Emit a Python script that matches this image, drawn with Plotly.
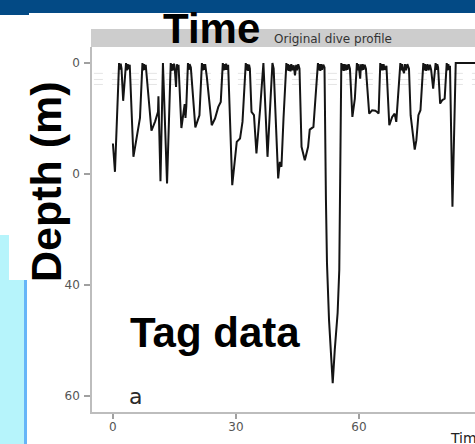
import plotly.graph_objects as go

# ---- data ----
time_min = [
    0.0, 0.5, 1.5, 1.7, 1.9, 2.1, 2.5, 3.2, 3.4, 3.6, 3.8, 4.1,
    5.0, 5.8, 6.6, 7.2, 7.4, 7.6, 7.8, 8.0,
    9.0, 9.4, 10.3, 11.0, 11.1, 11.6, 12.2, 13.2, 14.1, 14.3, 14.5, 14.7, 14.9, 15.1, 15.4, 15.6, 15.8, 16.0,
    16.7, 17.2, 17.5, 17.7, 17.9, 18.3, 18.5, 18.7, 19.0,
    20.1, 21.1, 21.7, 21.9, 22.1, 22.3, 22.5, 22.7,
    22.9, 24.1, 24.9, 25.7, 26.3, 26.8, 27.0, 27.2, 27.4, 27.6, 27.8, 28.1,
    29.1, 30.2, 31.0, 31.6, 32.4, 32.6, 32.8, 33.0, 33.2, 33.4,
    33.8, 34.4, 35.0, 35.9, 36.7, 37.7, 38.9, 39.2,
    40.3, 40.7, 41.1, 41.6, 42.3, 42.5, 42.7, 42.9, 43.1, 43.3, 43.5, 43.8, 44.1, 44.4, 44.7, 44.9, 45.2, 45.5,
    46.0, 46.8, 47.6, 48.0, 48.9, 50.0, 50.2, 50.4, 50.6, 50.8, 51.0, 51.3, 51.6,
    51.95, 52.2, 52.7, 53.2, 53.6, 54.1, 54.8, 55.2, 55.4, 55.7, 55.9, 56.1, 56.3, 56.5, 56.8, 57.0, 57.2, 57.5, 57.8,
    58.4, 59.0, 59.5, 59.7, 59.9, 60.3, 60.5, 60.7, 60.9, 61.1, 61.4, 61.7,
    62.5, 63.2, 64.0, 64.4, 64.8, 65.2, 65.4, 65.6, 65.8, 66.0, 66.3, 66.7,
    67.4, 68.1, 68.7, 69.1, 69.5, 70.1, 70.3, 70.5, 70.7, 71.0, 71.2, 71.5, 71.8, 72.2,
    72.6, 73.2, 73.6, 74.0, 74.5, 75.0, 75.7, 75.9, 76.1, 76.4, 76.7, 77.0, 77.3, 77.6,
    78.1, 78.7, 78.9, 79.1, 79.3,
    79.8, 80.3, 80.9, 81.4, 81.6, 81.8, 82.0, 82.2,
    82.8, 83.2, 83.6, 90.0,
]
depth_m = [
    14.5, 19.6, 0.0, 1.2, 0.1, 1.0, 6.8, 0.0, 1.3, 0.2, 1.1, 0.3,
    16.9, 13.5, 9.9, 0.0, 1.3, 0.2, 1.2, 0.3,
    9.9, 12.2, 10.5, 8.8, 6.0, 21.3, 0.0, 21.7, 0.0, 1.4, 0.2, 1.3, 0.1, 1.2, 4.3, 0.2, 1.2, 0.3,
    11.7, 9.0, 7.4, 9.9, 7.8, 0.0, 1.2, 0.2, 0.8,
    11.6, 9.4, 0.0, 1.3, 0.2, 1.2, 0.2, 1.1,
    2.5, 11.2, 10.0, 7.9, 7.0, 0.0, 1.3, 0.2, 1.2, 0.1, 1.2, 0.3,
    22.0, 14.2, 13.6, 10.6, 0.0, 1.3, 0.2, 1.4, 0.3, 1.0,
    8.8, 9.4, 16.3, 8.2, 0.0, 16.9, 0.0, 1.0,
    20.8, 17.8, 18.7, 10.0, 0.0, 1.3, 0.2, 1.4, 0.3, 1.5, 0.2, 1.3, 0.4, 2.2, 0.3, 1.3, 0.2, 1.0,
    15.1, 17.5, 15.1, 12.0, 11.5, 0.0, 1.3, 0.2, 1.4, 0.2, 1.2, 0.3, 0.8,
    24.7, 36.0, 46.3, 53.5, 57.7, 51.7, 45.0, 37.3, 24.7, 0.0, 1.3, 0.2, 1.4, 0.2, 1.3, 0.3, 1.2, 0.2, 1.0,
    9.7, 6.4, 0.0, 1.3, 0.2, 2.8, 0.2, 1.3, 0.2, 1.2, 0.3, 1.0,
    9.1, 8.5, 8.6, 8.8, 9.1, 0.0, 1.3, 0.2, 1.3, 0.2, 1.2, 0.5,
    11.2, 9.7, 9.1, 10.6, 6.5, 0.0, 1.3, 0.2, 1.2, 1.8, 0.2, 1.3, 0.2, 1.0,
    9.4, 13.0, 15.6, 13.9, 9.4, 8.5, 0.0, 1.3, 0.2, 1.4, 0.2, 1.3, 0.3, 1.2,
    4.6, 0.0, 1.2, 0.2, 0.8,
    7.3, 6.7, 6.4, 0.0, 1.3, 0.2, 1.2, 0.5,
    25.9, 12.4, 0.0, 0.0,
]
x_ticks = [0, 30, 60]
x_tick_labels = ["0", "30", "60"]
y_ticks = [0, 20, 40, 60]
y_tick_labels = ["0", "20", "40", "60"]
ref_depths = [1.85, 2.95, 3.85]
strip_title = "Original dive profile"
panel_letter = "a"
x_title = "Time"
overlay_top = "Time"
overlay_left = "Depth (m)"
overlay_mid = "Tag data"

# ---- layout geometry (pixels) ----
W, H = 475, 444
L, R, T, B = 92, 0, 47, 32
PW, PH = W - L - R, H - T - B


def px_x(x):
    return (x - L) / PW


def px_y(y):
    return (H - B - y) / PH


fig = go.Figure(
    go.Scatter(
        x=time_min, y=depth_m, mode="lines",
        line=dict(color="#141414", width=2), hoverinfo="skip",
    )
)

tickfont = dict(family="DejaVu Sans", size=12, color="#555555")
fig.update_layout(
    width=W, height=H,
    margin=dict(l=L, r=R, t=T, b=B, pad=0),
    paper_bgcolor="white", plot_bgcolor="white", showlegend=False,
)
fig.update_xaxes(
    range=[-5.1, 88.3], tickvals=x_ticks, ticktext=x_tick_labels,
    showgrid=False, zeroline=False, showline=True, linecolor="#bdbdbd", linewidth=1.5,
    ticks="outside", ticklen=5, tickwidth=1.5, tickcolor="#a0a0a0",
    tickfont=tickfont, ticklabelstandoff=-2,
)
fig.update_yaxes(
    range=[62.9, -2.9], tickvals=y_ticks, ticktext=y_tick_labels,
    showgrid=False, zeroline=False, showline=True, linecolor="#bdbdbd", linewidth=1.5,
    ticks="outside", ticklen=6, tickwidth=1.5, tickcolor="#a0a0a0",
    tickfont=tickfont, ticklabelstandoff=2,
)

shapes = []
for d in ref_depths:
    shapes.append(dict(type="line", xref="paper", yref="y", x0=0.005, x1=1, y0=d, y1=d,
                       line=dict(color="#e4e4e4", width=1, dash="dash"), layer="below"))
shapes.append(dict(type="rect", xref="paper", yref="paper", x0=px_x(91), x1=1,
                   y0=px_y(47), y1=px_y(29), fillcolor="#cdcdcd", line=dict(width=0), layer="above"))
shapes.append(dict(type="rect", xref="paper", yref="paper", x0=px_x(0), x1=1,
                   y0=px_y(13), y1=px_y(0), fillcolor="#034a85", line=dict(width=0), layer="above"))
shapes.append(dict(type="rect", xref="paper", yref="paper", x0=px_x(0), x1=px_x(29),
                   y0=px_y(15), y1=px_y(0), fillcolor="#034a85", line=dict(width=0), layer="above"))
shapes.append(dict(type="rect", xref="paper", yref="paper", x0=px_x(0), x1=px_x(24),
                   y0=px_y(444), y1=px_y(235), fillcolor="#b6f4fb", line=dict(width=0), layer="above"))
shapes.append(dict(type="rect", xref="paper", yref="paper", x0=px_x(24), x1=px_x(27),
                   y0=px_y(444), y1=px_y(235), fillcolor="#66b5f8", line=dict(width=0), layer="above"))
shapes.append(dict(type="rect", xref="paper", yref="paper", x0=px_x(9), x1=px_x(71.5),
                   y0=px_y(280), y1=px_y(70), fillcolor="white", line=dict(width=0), layer="above"))
fig.update_layout(shapes=shapes)

big = "Liberation Sans, Arial, sans-serif"
ann = [
    dict(text=strip_title, x=px_x(333), y=px_y(38.5), xanchor="center", yanchor="middle",
         font=dict(family="DejaVu Sans", size=12, color="#333333")),
    dict(text=panel_letter, x=px_x(135), y=px_y(396), xanchor="center", yanchor="middle",
         font=dict(family="DejaVu Sans", size=22, color="#2a2a2a")),
    dict(text=x_title, x=px_x(448), y=px_y(438), xanchor="left", yanchor="middle",
         font=dict(family="DejaVu Sans", size=14, color="#222222")),
    dict(text="<b>%s</b>" % overlay_top, x=px_x(211.5), y=px_y(28), xanchor="center", yanchor="middle",
         font=dict(family=big, size=42, color="black")),
    dict(text="<b>%s</b>" % overlay_left, x=px_x(46), y=px_y(182), xanchor="center", yanchor="middle",
         textangle=-90, font=dict(family=big, size=43, color="black")),
    dict(text="<b>%s</b>" % overlay_mid, x=px_x(214.5), y=px_y(332), xanchor="center", yanchor="middle",
         font=dict(family=big, size=42, color="black")),
]
for a in ann:
    a.update(xref="paper", yref="paper", showarrow=False)
fig.update_layout(annotations=ann)

fig.write_html("out.html")
